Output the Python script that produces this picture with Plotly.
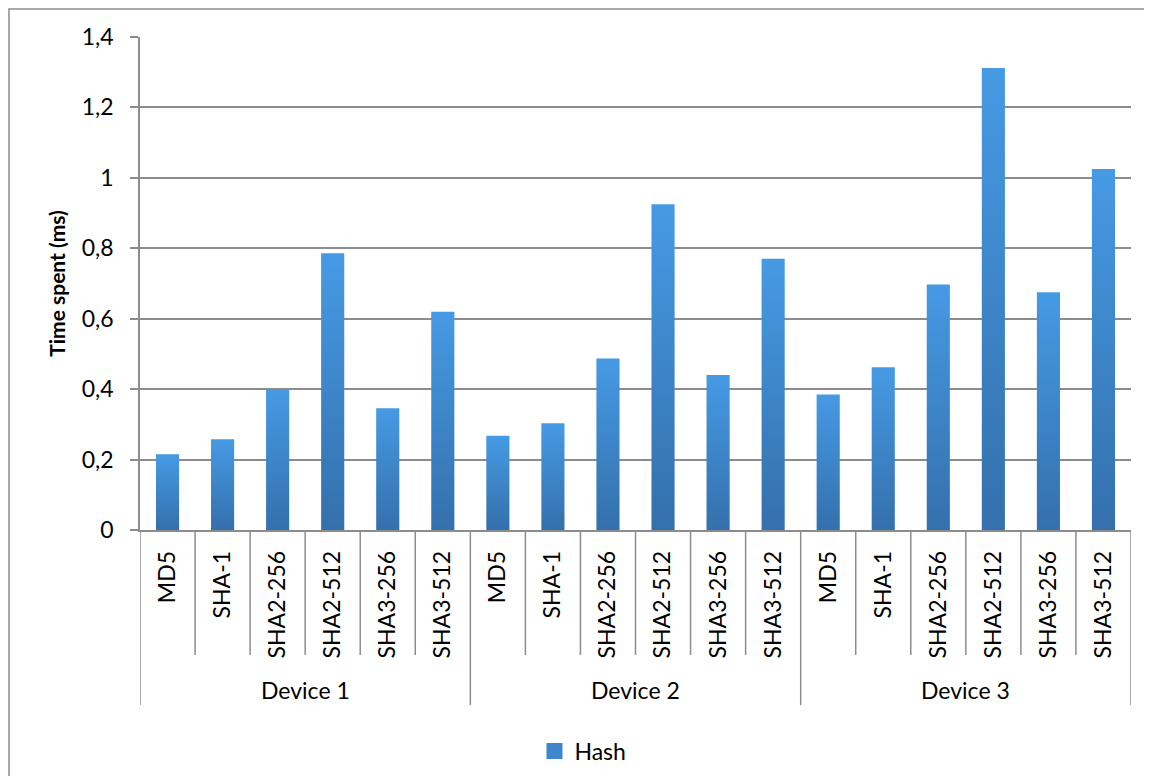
import plotly.graph_objects as go

# data
devices = ["Device 1", "Device 2", "Device 3"]
algorithms = ["MD5", "SHA-1", "SHA2-256", "SHA2-512", "SHA3-256", "SHA3-512"]
device1_ms = [0.215, 0.258, 0.400, 0.786, 0.346, 0.620]
device2_ms = [0.268, 0.303, 0.487, 0.925, 0.440, 0.770]
device3_ms = [0.385, 0.462, 0.697, 1.312, 0.675, 1.025]
y_ticks = [0, 0.2, 0.4, 0.6, 0.8, 1.0, 1.2, 1.4]

values = device1_ms + device2_ms + device3_ms
labels = algorithms * len(devices)
n = len(values)
half = 0.21  # half bar width in category units

TOP = "rgb(70,154,228)"
BOTTOM = "rgb(52,112,172)"
MID = "rgb(62,135,205)"
FONT = "Lato"
GREY = "#8c8c8c"
FS = 23

fig = go.Figure()

# each bar is a filled polygon so it can carry the vertical gradient like Excel
for i, v in enumerate(values):
    fig.add_trace(go.Scatter(
        x=[i - half, i - half, i + half, i + half, i - half],
        y=[0, v, v, 0, 0],
        mode="none",
        fill="toself",
        fillgradient=dict(type="vertical", start=0, stop=v,
                          colorscale=[[0, BOTTOM], [1, TOP]]),
        name="Hash",
        showlegend=False,
        hoverinfo="skip",
    ))

# legend entry only (square swatch like Excel)
fig.add_trace(go.Scatter(x=[None], y=[None], name="Hash", mode="markers",
                         marker=dict(symbol="square", size=16, color=MID),
                         showlegend=True))

shapes = []
# category separators below the axis
for k in range(n + 1):
    b = k - 0.5
    outer = k % len(algorithms) == 0
    shapes.append(dict(type="line", xref="x", yref="paper",
                       x0=b, x1=b, y0=0, y1=-0.355 if outer else -0.2535,
                       line=dict(color=GREY, width=1.5)))
# chart border
shapes.append(dict(type="rect", xref="paper", yref="paper",
                   x0=-0.1322, x1=1.06, y0=-0.55, y1=1.057,
                   line=dict(color=GREY, width=1.5)))

annotations = []
for j, d in enumerate(devices):
    annotations.append(dict(xref="x", yref="paper",
                            x=j * len(algorithms) + (len(algorithms) - 1) / 2,
                            y=-0.3245, yanchor="middle", text=d,
                            showarrow=False,
                            font=dict(size=FS, color="black", family=FONT)))

fig.update_layout(
    width=1152, height=776,
    margin=dict(l=132, r=29, t=29, b=254),
    plot_bgcolor="white",
    paper_bgcolor="white",
    separators=", ",
    font=dict(family=FONT, size=FS, color="black"),
    showlegend=True,
    legend=dict(orientation="h", x=0.447, xanchor="center", y=-0.405,
                yanchor="top", font=dict(size=FS)),
    shapes=shapes,
    annotations=annotations,
)

fig.update_xaxes(
    range=[-0.5, n - 0.5],
    tickmode="array",
    tickvals=list(range(n)),
    ticktext=labels,
    tickangle=-90,
    ticks="",
    ticklabelstandoff=10,
    showgrid=False,
    zeroline=False,
    showline=True,
    linecolor=GREY,
    linewidth=1.5,
    tickfont=dict(size=FS, family=FONT),
)

fig.update_yaxes(
    range=[0, 1.4],
    tickmode="array",
    tickvals=y_ticks,
    ticks="outside",
    ticklen=8,
    tickcolor=GREY,
    tickwidth=1.5,
    ticklabelstandoff=12,
    showgrid=True,
    gridcolor=GREY,
    gridwidth=1.5,
    zeroline=False,
    showline=True,
    linecolor=GREY,
    linewidth=1.5,
    tickfont=dict(size=FS, family=FONT),
    title=dict(text="<b>Time spent (ms)</b>", font=dict(size=21, family=FONT),
               standoff=10),
)

fig.write_html("out.html")
